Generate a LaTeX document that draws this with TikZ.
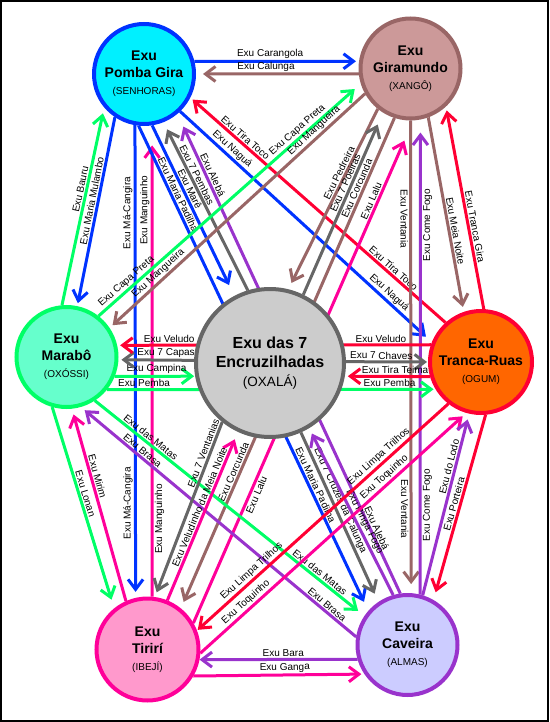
\documentclass[tikz,border=0pt]{standalone}
\usepackage{fontspec}
\setmainfont{Liberation Sans}
\usetikzlibrary{arrows.meta,backgrounds}
\definecolor{cblue}{HTML}{0033FF}
\definecolor{cbrown}{HTML}{996666}
\definecolor{cgreen}{HTML}{00FF66}
\definecolor{cgray}{HTML}{666666}
\definecolor{cred}{HTML}{FF0033}
\definecolor{cpink}{HTML}{FF0099}
\definecolor{cpurple}{HTML}{9933CC}
\definecolor{fcyan}{HTML}{00F0FF}
\definecolor{frose}{HTML}{CC9999}
\definecolor{faqua}{HTML}{66FFCC}
\definecolor{fgray}{HTML}{CCCCCC}
\definecolor{forange}{HTML}{FF6600}
\definecolor{fpink}{HTML}{FF99CC}
\definecolor{flav}{HTML}{CCCCFF}
\newcommand\subt[1]{{\fontsize{10}{12}\selectfont\mdseries #1}}
\newcommand\csubt[1]{{\fontsize{13.5}{16}\selectfont\mdseries #1}}
\begin{document}
\begin{tikzpicture}[x=1pt,y=-1pt,
  ed/.style={draw=#1, line width=3pt, -{Straight Barb[length=10pt,width=15pt]}},
  lab/.style={font=\fontsize{10}{11}\selectfont, inner sep=1.2pt, sloped},
  vlab/.style={font=\fontsize{10}{11}\selectfont, inner sep=1.2pt},
  nd/.style={circle, line width=4pt, minimum size=100pt, inner sep=0pt, align=center,
    font=\fontsize{14}{17}\selectfont\bfseries},
  cn/.style={circle, line width=4pt, minimum size=148pt, inner sep=0pt, align=center,
    font=\fontsize{16}{19}\selectfont\bfseries, fill=fgray, draw=cgray}]
\useasboundingbox (0,0) rectangle (549,722);
\node[nd, fill=fcyan, draw=cblue] (PG) at (144,74) {Exu\\Pomba Gira\\\subt{(SENHORAS)}};
\node[nd, fill=frose, draw=cbrown] (GM) at (410.5,68.5) {Exu\\Giramundo\\\subt{(XANGÔ)}};
\node[nd, fill=faqua, draw=cgreen] (MB) at (66.5,357) {Exu\\Marabô\\\subt{(OXÓSSI)}};
\node[cn] (C) at (270,363) {Exu das 7\\Encruzilhadas\\\csubt{(OXALÁ)}};
\node[nd, fill=forange, draw=cred, minimum size=102pt] (TR) at (481,362) {Exu\\Tranca-Ruas\\\subt{(OGUM)}};
\node[nd, fill=fpink, draw=cpink, minimum size=102pt] (TI) at (147.5,649.5) {Exu\\Tirirí\\\subt{(IBEJÍ)}};
\node[nd, fill=flav, draw=cpurple] (CV) at (407.5,645) {Exu\\Caveira\\\subt{(ALMAS)}};
\begin{scope}[on background layer]
\draw[line width=1.2pt] (1,1) rectangle (548,721);
% PG-GM
\draw[ed=cblue,shorten >=3pt] (PG.14) -- node[lab,above,pos=.46]{Exu Carangola} (GM.172.2);
\draw[ed=cbrown,shorten >=7pt] (GM.186) -- node[lab,above,pos=.57]{Exu Calunga} (PG.0);
% TI-CV
\draw[ed=cpurple] (CV.196.5) -- node[lab,above,pos=.47]{Exu Bara} (TI.-11.3);
\draw[ed=cpink,shorten >=3pt] (TI.-30.8) -- node[lab,above,pos=.535]{Exu Ganga} (CV.214.3);
% MB-PG
\draw[ed=cgreen,shorten >=6pt] (MB.95.1) -- node[lab,above,pos=.58]{Exu Bauru} (PG.220.8);
\draw[ed=cblue,shorten >=3pt] (PG.236) -- node[lab,above,pos=.45]{Exu Maria Mulambo} (MB.78);
% PG-TI
\draw[ed=cblue,shorten >=6pt] (PG.-100) -- node[vlab,rotate=90,anchor=south,pos=.186]{Exu Má-Cangira} node[vlab,rotate=90,anchor=south,pos=.8]{Exu Má-Cangira} (TI.103.6);
\draw[ed=cpink,shorten >=20pt] (TI.85.1) -- node[vlab,rotate=90,anchor=north,pos=.165]{Exu Manguinho} node[vlab,rotate=90,anchor=south,pos=.82]{Exu Manguinho} (PG.-81.6);
% PG-TR
\draw[ed=cred,shorten >=3pt] (TR.132.7) -- node[lab,above,pos=.22]{Exu Tira Toco} node[lab,above,pos=.8]{Exu Tira Toco} (PG.-27.9);
\draw[ed=cblue,shorten >=8pt] (PG.-46.5) -- node[lab,above,pos=.187]{Exu Naguá} node[lab,above,pos=.81]{Exu Naguá} (TR.158.9);
% PG-CV
\draw[ed=cblue,shorten >=10pt] (PG.-96.6) -- node[lab,above,pos=.148]{Exu Maria Padilha} node[lab,above,pos=.746]{Exu Maria Padilha} (CV.139.9);
\draw[ed=cpurple,shorten >=14pt] (CV.98.4) -- node[lab,above,pos=.131]{Exu Alebá} node[lab,above,pos=.867]{Exu Alebá} (PG.-50.5);
% PG-C
\draw[ed=cblue,shorten >=12pt] (PG.-81.4) -- node[lab,above,pos=.39]{Exu Marê} (C.118);
\draw[ed=cgray,shorten >=8pt] (C.107.5) -- node[lab,above,pos=.67]{Exu 7 Pembas} (PG.-68.6);
% MB-GM
\draw[ed=cgreen,shorten >=8pt] (MB.52) -- node[lab,above,pos=.125]{Exu Capa Preta} node[lab,above,pos=.777]{Exu Capa Preta} (GM.197.8);
\draw[ed=cbrown,shorten >=4pt] (GM.209.4) -- node[lab,above,pos=.18]{Exu Mangueira} node[lab,above,pos=.79]{Exu Mangueira} (MB.34.5);
% GM-C
\draw[ed=cbrown,shorten >=7pt] (GM.231.6) -- node[lab,above,pos=.37]{Exu Pedreira} (C.76.1);
\draw[ed=cgray,shorten >=13pt] (C.64.8) -- node[lab,above,pos=.6]{Exu 7 Poeiras} (GM.238.6);
% GM-TI
\draw[ed=cbrown,shorten >=7pt] (GM.252.6) -- node[lab,above,pos=.149]{Exu Corcunda} node[lab,above,pos=.727]{Exu Corcunda} (TI.51.1);
\draw[ed=cpink,shorten >=22pt] (TI.30.8) -- node[lab,below,pos=.26]{Exu Lalu} node[lab,above,pos=.835]{Exu Lalu} (GM.-87.4);
% GM-TR
\draw[ed=cbrown,shorten >=5pt] (GM.-70.5) -- node[lab,above,pos=.59]{Exu Meia Noite} (TR.109.1);
\draw[ed=cred,shorten >=4pt] (TR.87.8) -- node[lab,above,pos=.4]{Exu Tranca Gira} (GM.-47.9);
% GM-CV
\draw[ed=cbrown,shorten >=9pt] (GM.-90) -- node[vlab,rotate=-90,anchor=north,pos=.208]{Exu Ventania} node[vlab,rotate=-90,anchor=north,pos=.822]{Exu Ventania} (CV.86.7);
\draw[ed=cpurple,shorten >=13pt] (CV.76.1) -- node[vlab,rotate=90,anchor=north,pos=.188]{Exu Come Fogo} node[vlab,rotate=90,anchor=north,pos=.778]{Exu Come Fogo} (GM.-79.5);
% MB-C
\draw[ed=cgreen,shorten >=1pt] (MB.-22.6) -- node[lab,above,pos=.52]{Exu Campina} (C.190.6);
\draw[ed=cgray,shorten >=3pt] (C.178) -- node[lab,above,pos=.37]{Exu 7 Capas} (MB.-3.3);
% MB-TR
\draw[ed=cred,shorten >=3pt] (TR.161.2) -- node[lab,above,pos=.159]{Exu Veludo} node[lab,above,pos=.834]{Exu Veludo} (MB.13.3);
\draw[ed=cgreen,shorten >=2pt] (MB.-39.2) -- node[lab,above,pos=.113]{Exu Pemba} node[lab,above,pos=.86]{Exu Pemba} (TR.211.9);
% C-TR
\draw[ed=cgray,shorten >=1pt] (C.1) -- node[lab,above,pos=.43]{Exu 7 Chaves} (TR.180);
\draw[ed=cred,shorten >=3pt] (TR.196.5) -- node[lab,above,pos=.41]{Exu Tira Teima} (C.-10.6);
% MB-TI
\draw[ed=cgreen,shorten >=9pt] (MB.254.7) -- node[lab,above,pos=.44]{Exu Lonan} (TI.129.7);
\draw[ed=cpink,shorten >=6pt] (TI.114.4) -- node[lab,above,pos=.64]{Exu Mirim} (MB.-84.6);
% MB-CV
\draw[ed=cgreen,shorten >=8pt] (MB.-57.7) -- node[lab,above,pos=.193]{Exu das Matas} node[lab,above,pos=.82]{Exu das Matas} (CV.146.8);
\draw[ed=cpurple,shorten >=5pt] (CV.171.6) -- node[lab,above,pos=.12]{Exu Brasa} node[lab,above,pos=.79]{Exu Brasa} (MB.-74.3);
% C-TI
\draw[ed=cgray,shorten >=5pt] (C.231.3) -- node[lab,above,pos=.19]{Exu 7 Ventanias} (TI.82.6);
\draw[ed=cpink,shorten >=8pt] (TI.68.3) -- node[lab,above,pos=.54]{Exu Veludinho da Meia Noite} (C.245.6);
% C-CV
\draw[ed=cgray,shorten >=9pt] (C.-66) -- node[lab,above,pos=.42]{Exu 7 Cruzes da Calunga} (CV.124.1);
\draw[ed=cpurple,shorten >=6pt] (CV.106.9) -- node[lab,above,pos=.42]{Exu Pinga Fogo} (C.-59.4);
% TR-TI
\draw[ed=cred,shorten >=1pt] (TR.232.9) -- node[lab,above,pos=.257]{Exu Limpa Trilhos} node[lab,above,pos=.763]{Exu Limpa Trilhos} (TI.21.1);
\draw[ed=cpink,shorten >=5pt] (TI.-4) -- node[lab,above,pos=.19]{Exu Toquinho} node[lab,above,pos=.71]{Exu Toquinho} (TR.254.1);
% TR-CV
\draw[ed=cred,shorten >=8pt] (TR.-85.5) -- node[lab,above,pos=.49]{Exu Porteira} (CV.60.4);
\draw[ed=cpurple,shorten >=6pt] (CV.73.1) -- node[lab,above,pos=.7]{Exu do Lodo} (TR.257.4);
\end{scope}
\end{tikzpicture}
\end{document}
